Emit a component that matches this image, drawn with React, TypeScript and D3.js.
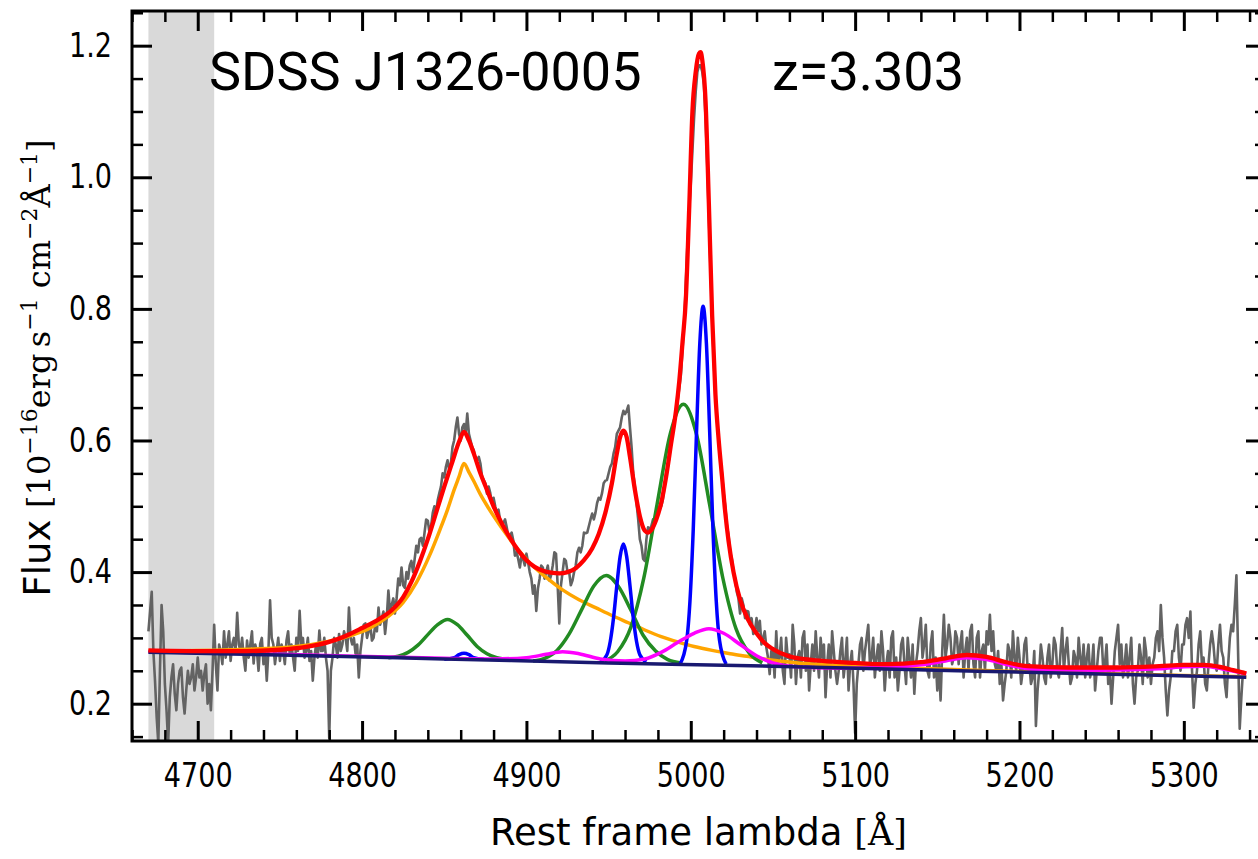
import React, { useRef, useEffect } from 'react';
import * as d3 from 'd3';

// observed spectrum, 1 A bins starting at 4670 A (one row = 10 A)
const specStart = 4670;
const specStep = 1;
const specFlux = [
  0.31, 0.34, 0.37, 0.28, 0.235, 0.18, 0.14, 0.25, 0.35, 0.31,
  0.23, 0.19, 0.14, 0.21, 0.24, 0.26, 0.215, 0.19, 0.23, 0.25,
  0.255, 0.21, 0.185, 0.22, 0.25, 0.23, 0.24, 0.26, 0.22, 0.24,
  0.27, 0.24, 0.25, 0.22, 0.245, 0.26, 0.20, 0.23, 0.19, 0.25,
  0.32, 0.26, 0.22, 0.29, 0.28, 0.26, 0.31, 0.27, 0.29, 0.31,
  0.265, 0.29, 0.30, 0.28, 0.338, 0.29, 0.28, 0.30, 0.27, 0.25,
  0.296, 0.27, 0.29, 0.31, 0.261, 0.29, 0.28, 0.25, 0.291, 0.30,
  0.26, 0.28, 0.235, 0.28, 0.357, 0.30, 0.29, 0.26, 0.28, 0.30,
  0.265, 0.29, 0.28, 0.26, 0.296, 0.31, 0.275, 0.29, 0.27, 0.25,
  0.30, 0.28, 0.341, 0.29, 0.30, 0.27, 0.28, 0.30, 0.265, 0.28,
  0.235, 0.27, 0.29, 0.27, 0.311, 0.28, 0.28, 0.30, 0.27, 0.25,
  0.148, 0.25, 0.27, 0.30, 0.29, 0.27, 0.306, 0.28, 0.29, 0.31,
  0.30, 0.28, 0.346, 0.30, 0.29, 0.30, 0.276, 0.29, 0.24, 0.28,
  0.30, 0.32, 0.322, 0.30, 0.31, 0.32, 0.296, 0.30, 0.32, 0.31,
  0.346, 0.32, 0.33, 0.34, 0.306, 0.33, 0.372, 0.34, 0.35, 0.36,
  0.337, 0.36, 0.39, 0.38, 0.407, 0.38, 0.376, 0.40, 0.39, 0.41,
  0.417, 0.40, 0.42, 0.44, 0.43, 0.45, 0.452, 0.44, 0.46, 0.48,
  0.478, 0.46, 0.47, 0.49, 0.50, 0.49, 0.509, 0.52, 0.53, 0.55,
  0.544, 0.56, 0.57, 0.555, 0.565, 0.59, 0.60, 0.62, 0.635, 0.61,
  0.60, 0.62, 0.625, 0.61, 0.641, 0.61, 0.60, 0.59, 0.585, 0.57,
  0.57, 0.575, 0.565, 0.545, 0.54, 0.535, 0.519, 0.53, 0.52, 0.505,
  0.513, 0.50, 0.49, 0.495, 0.478, 0.47, 0.475, 0.48, 0.468, 0.455,
  0.455, 0.46, 0.448, 0.425, 0.43, 0.42, 0.407, 0.425, 0.42, 0.41,
  0.428, 0.415, 0.40, 0.39, 0.367, 0.38, 0.341, 0.375, 0.39, 0.41,
  0.407, 0.39, 0.40, 0.41, 0.387, 0.395, 0.41, 0.43, 0.428, 0.38,
  0.322, 0.38, 0.40, 0.42, 0.417, 0.40, 0.40, 0.38, 0.387, 0.40,
  0.41, 0.43, 0.437, 0.43, 0.44, 0.46, 0.459, 0.46, 0.47, 0.48,
  0.489, 0.48, 0.49, 0.505, 0.513, 0.51, 0.52, 0.535, 0.539, 0.54,
  0.55, 0.56, 0.565, 0.58, 0.59, 0.61, 0.615, 0.62, 0.635, 0.645,
  0.64, 0.645, 0.653, 0.62, 0.589, 0.55, 0.529, 0.505, 0.48, 0.45,
  0.44, 0.42, 0.417, 0.45, 0.468, 0.465, 0.47, 0.48, 0.478, 0.48,
  0.49, 0.50, 0.50, 0.51, 0.53, 0.55, 0.56, 0.575, 0.60, 0.62,
  0.63, 0.64, 0.66, 0.68, 0.70, 0.74, 0.78, 0.84, 0.90, 0.95,
  0.99, 1.04, 1.09, 1.13, 1.16, 1.17, 1.17, 1.16, 1.14, 1.09,
  1.02, 0.94, 0.86, 0.79, 0.72, 0.67, 0.63, 0.60, 0.57, 0.55,
  0.52, 0.50, 0.47, 0.455, 0.43, 0.42, 0.40, 0.39, 0.37, 0.36,
  0.337, 0.36, 0.35, 0.33, 0.341, 0.34, 0.32, 0.33, 0.306, 0.31,
  0.33, 0.31, 0.326, 0.29, 0.30, 0.31, 0.285, 0.27, 0.245, 0.28,
  0.28, 0.24, 0.31, 0.26, 0.27, 0.30, 0.25, 0.23, 0.30, 0.27,
  0.275, 0.24, 0.32, 0.29, 0.23, 0.27, 0.28, 0.24, 0.30, 0.31,
  0.25, 0.29, 0.22, 0.26, 0.29, 0.25, 0.31, 0.27, 0.24, 0.30,
  0.27, 0.29, 0.21, 0.26, 0.29, 0.24, 0.31, 0.28, 0.25, 0.23,
  0.25, 0.28, 0.30, 0.24, 0.265, 0.30, 0.22, 0.26, 0.28, 0.23,
  0.155, 0.23, 0.26, 0.29, 0.30, 0.25, 0.28, 0.30, 0.32, 0.26,
  0.27, 0.30, 0.24, 0.27, 0.29, 0.25, 0.31, 0.28, 0.22, 0.26,
  0.28, 0.24, 0.30, 0.31, 0.24, 0.27, 0.22, 0.25, 0.29, 0.30,
  0.26, 0.23, 0.30, 0.27, 0.24, 0.29, 0.215, 0.26, 0.28, 0.31,
  0.33, 0.27, 0.29, 0.32, 0.25, 0.24, 0.29, 0.31, 0.24, 0.27,
  0.22, 0.26, 0.205, 0.28, 0.335, 0.27, 0.29, 0.32, 0.30, 0.26,
  0.27, 0.31, 0.30, 0.26, 0.29, 0.31, 0.24, 0.28, 0.30, 0.25,
  0.31, 0.32, 0.26, 0.24, 0.30, 0.31, 0.24, 0.28, 0.29, 0.25,
  0.31, 0.29, 0.335, 0.28, 0.31, 0.26, 0.25, 0.28, 0.23, 0.26,
  0.205, 0.23, 0.25, 0.29, 0.28, 0.24, 0.31, 0.27, 0.25, 0.30,
  0.27, 0.23, 0.25, 0.29, 0.30, 0.25, 0.26, 0.23, 0.24, 0.28,
  0.166, 0.22, 0.25, 0.29, 0.27, 0.24, 0.23, 0.27, 0.29, 0.24,
  0.26, 0.30, 0.29, 0.25, 0.24, 0.28, 0.315, 0.25, 0.28, 0.30,
  0.26, 0.23, 0.24, 0.28, 0.27, 0.24, 0.30, 0.27, 0.25, 0.29,
  0.24, 0.27, 0.29, 0.24, 0.255, 0.29, 0.22, 0.25, 0.28, 0.30,
  0.30, 0.25, 0.26, 0.29, 0.23, 0.25, 0.20, 0.24, 0.28, 0.30,
  0.32, 0.26, 0.29, 0.24, 0.26, 0.29, 0.24, 0.27, 0.30, 0.23,
  0.20, 0.24, 0.25, 0.29, 0.27, 0.23, 0.30, 0.28, 0.24, 0.27,
  0.23, 0.26, 0.27, 0.30, 0.31, 0.28, 0.35, 0.30, 0.27, 0.22,
  0.182, 0.22, 0.24, 0.28, 0.28, 0.31, 0.32, 0.27, 0.25, 0.29,
  0.29, 0.32, 0.33, 0.30, 0.34, 0.25, 0.194, 0.23, 0.25, 0.29,
  0.31, 0.26, 0.27, 0.23, 0.22, 0.26, 0.29, 0.31, 0.29, 0.26,
  0.25, 0.29, 0.32, 0.28, 0.27, 0.23, 0.21, 0.26, 0.30, 0.32,
  0.31, 0.35, 0.395, 0.28, 0.162, 0.21, 0.25,
];

// fit components, [wavelength, flux]
const continuum = [
  [4670, 0.278], [4750, 0.274], [4850, 0.268], [4950, 0.262],
  [5050, 0.257], [5150, 0.251], [5250, 0.245], [5338, 0.240],
];

const hbBroad = [
  [4670, 0.280], [4720, 0.282], [4760, 0.287], [4780, 0.295], [4795, 0.305],
  [4805, 0.315], [4815, 0.331], [4825, 0.354], [4833, 0.384], [4841, 0.425],
  [4847, 0.462], [4852, 0.495], [4856, 0.525], [4859, 0.545], [4862, 0.565],
  [4865, 0.552], [4868, 0.538], [4872, 0.518], [4877, 0.497], [4882, 0.478],
  [4887, 0.460], [4892, 0.443], [4897, 0.428], [4902, 0.414], [4912, 0.392],
  [4922, 0.373], [4932, 0.358], [4942, 0.346], [4952, 0.334], [4962, 0.323],
  [4972, 0.312], [4982, 0.302], [4992, 0.294], [5002, 0.287], [5013, 0.281],
  [5024, 0.276], [5034, 0.272], [5044, 0.268], [5054, 0.265], [5070, 0.261],
  [5090, 0.258], [5120, 0.255], [5160, 0.252], [5200, 0.249], [5250, 0.246],
  [5300, 0.243], [5338, 0.241],
];

const feII = [
  [4670, 0.279], [4750, 0.275], [4850, 0.269], [4880, 0.268], [4900, 0.270],
  [4912, 0.275], [4922, 0.279], [4932, 0.276], [4945, 0.268], [4960, 0.265],
  [4972, 0.268], [4982, 0.278], [4992, 0.293], [5002, 0.307], [5011, 0.314],
  [5020, 0.307], [5030, 0.290], [5040, 0.273], [5050, 0.262], [5065, 0.256],
  [5090, 0.254], [5120, 0.255], [5140, 0.259], [5155, 0.265], [5168, 0.270],
  [5180, 0.267], [5195, 0.258], [5210, 0.252], [5250, 0.251], [5285, 0.253],
  [5300, 0.256], [5312, 0.257], [5325, 0.252], [5338, 0.245],
];

const hbWing = [
  [4816, 0.270], [4822, 0.272], [4828, 0.278], [4834, 0.289], [4840, 0.305],
  [4846, 0.320], [4852, 0.328], [4858, 0.320], [4864, 0.304], [4870, 0.287],
  [4876, 0.276], [4882, 0.270], [4890, 0.2675],
];

const o3WingA = [
  [4904, 0.265], [4911, 0.269], [4918.6, 0.281], [4926, 0.306], [4933.6, 0.343],
  [4941, 0.379], [4948.6, 0.395], [4956, 0.378], [4963.6, 0.342], [4971, 0.304],
  [4978.6, 0.280], [4986, 0.267], [4994, 0.262],
];

const o3WingB = [
  [4947.5, 0.265], [4955.5, 0.279], [4963.5, 0.316], [4971.5, 0.392],
  [4979.5, 0.503], [4987.5, 0.610], [4995.5, 0.655], [5003.5, 0.609],
  [5011.5, 0.502], [5019.5, 0.391], [5027.5, 0.314], [5035.5, 0.277],
  [5043.5, 0.262],
];

const hbNarrow = [
  [4850, 0.2675], [4856, 0.270], [4859, 0.2745], [4862, 0.2765],
  [4865, 0.2745], [4868, 0.270], [4874, 0.2675],
];

const o3CoreA = [
  [4945, 0.263], [4949, 0.2745], [4951, 0.2945], [4953, 0.3305], [4955, 0.3795],
  [4957, 0.4235], [4959, 0.4425], [4961, 0.4235], [4963, 0.3795], [4965, 0.3305],
  [4967, 0.2945], [4969, 0.2745], [4973, 0.2635],
];

const o3CoreB = [
  [4993.5, 0.2602], [4997.5, 0.296], [4999.5, 0.356], [5001.5, 0.465],
  [5003.5, 0.613], [5005.5, 0.748], [5007.5, 0.804], [5009.5, 0.748],
  [5011.5, 0.613], [5013.5, 0.465], [5015.5, 0.356], [5017.5, 0.296],
  [5021.5, 0.260],
];

const totalModel = [
  [4670, 0.281], [4700, 0.280], [4730, 0.280], [4750, 0.282], [4765, 0.286],
  [4780, 0.294], [4790, 0.303], [4800, 0.315], [4810, 0.328], [4818, 0.342],
  [4825, 0.362], [4830, 0.385], [4835, 0.415], [4840, 0.450], [4845, 0.490],
  [4850, 0.530], [4855, 0.568], [4859, 0.598], [4862, 0.613], [4865, 0.600],
  [4868, 0.580], [4872, 0.550], [4876, 0.525], [4880, 0.500], [4885, 0.474],
  [4890, 0.452], [4895, 0.433], [4900, 0.418], [4905, 0.408], [4910, 0.402],
  [4915, 0.399], [4920, 0.398], [4925, 0.400], [4930, 0.406], [4935, 0.418],
  [4940, 0.436], [4944, 0.458], [4948, 0.490], [4952, 0.535], [4955, 0.580],
  [4957, 0.605], [4959, 0.615], [4961, 0.605], [4963, 0.575], [4966, 0.525],
  [4969, 0.485], [4972, 0.463], [4974, 0.460], [4976, 0.464], [4979, 0.480],
  [4982, 0.505], [4985, 0.545], [4988, 0.595], [4991, 0.645], [4993, 0.690],
  [4995, 0.750], [4997, 0.815], [4999, 0.950], [5001, 1.100], [5003, 1.160],
  [5005, 1.188], [5006, 1.190], [5007, 1.178], [5009, 1.115], [5011, 0.960],
  [5013, 0.790], [5015, 0.670], [5017, 0.600], [5019, 0.545], [5021, 0.490],
  [5023, 0.447], [5026, 0.400], [5030, 0.358], [5035, 0.327], [5040, 0.307],
  [5045, 0.292], [5050, 0.283], [5060, 0.272], [5080, 0.265], [5100, 0.262],
  [5120, 0.260], [5140, 0.263], [5155, 0.269], [5168, 0.274], [5180, 0.271],
  [5192, 0.263], [5205, 0.257], [5230, 0.255], [5260, 0.255], [5285, 0.257],
  [5300, 0.259], [5312, 0.259], [5322, 0.256], [5330, 0.251], [5338, 0.246],
];

const xMajor = [4700, 4800, 4900, 5000, 5100, 5200, 5300];
const yMajor = [0.2, 0.4, 0.6, 0.8, 1.0, 1.2];
const maskedRange = [4670, 4710];

const App = () => {
  const svgRef = useRef(null);

  useEffect(() => {
    const svg = d3.select(svgRef.current);
    svg.selectAll('*').remove();

    const left = 132, right = 1266, top = 11, bottom = 741;
    const x = d3.scaleLinear().domain([4660, 5350]).range([left, right]);
    const y = d3.scaleLinear().domain([0.1433, 1.2527]).range([bottom, top]);

    svg.append('clipPath').attr('id', 'plot-clip')
      .append('rect')
      .attr('x', left).attr('y', top)
      .attr('width', right - left).attr('height', bottom - top);

    const plot = svg.append('g').attr('clip-path', 'url(#plot-clip)');

    plot.append('rect')
      .attr('x', x(maskedRange[0]))
      .attr('y', top)
      .attr('width', x(maskedRange[1]) - x(maskedRange[0]))
      .attr('height', bottom - top)
      .attr('fill', '#d9d9d9');

    const spec = specFlux.map((v, i) => [specStart + i * specStep, v]);
    const raw = d3.line().x((d) => x(d[0])).y((d) => y(d[1]));
    const smooth = d3.line().x((d) => x(d[0])).y((d) => y(d[1])).curve(d3.curveMonotoneX);

    plot.append('path').datum(spec)
      .attr('fill', 'none').attr('stroke', '#636363')
      .attr('stroke-width', 2.6).attr('stroke-linejoin', 'round')
      .attr('d', raw);

    const comps = [
      [hbBroad, 'orange'],
      [hbWing, '#228b22'],
      [o3WingA, '#228b22'],
      [o3WingB, '#228b22'],
      [hbNarrow, 'blue'],
      [o3CoreA, 'blue'],
      [o3CoreB, 'blue'],
      [feII, 'magenta'],
      [continuum, '#191970'],
    ];
    comps.forEach(([data, color]) => {
      plot.append('path').datum(data)
        .attr('fill', 'none').attr('stroke', color)
        .attr('stroke-width', 3.5)
        .attr('d', smooth);
    });

    plot.append('path').datum(totalModel)
      .attr('fill', 'none').attr('stroke', 'red')
      .attr('stroke-width', 4.3)
      .attr('d', smooth);

    // axes, ticks pointing inward on all four sides
    const xMinor = d3.range(4660, 5351, 20).filter((v) => v % 100 !== 0);
    const yMinor = d3.range(3, 26).filter((i) => i % 4 !== 0).map((i) => i * 0.05);
    const font = 'DejaVu Sans, sans-serif';
    const squeeze = 0.82;

    const styleAxis = (g, w) => {
      g.select('.domain').remove();
      g.selectAll('line').attr('stroke', 'black').attr('stroke-width', w);
    };

    svg.append('g').attr('transform', `translate(0,${bottom})`)
      .call(d3.axisBottom(x).tickValues(xMajor).tickSize(-20).tickPadding(23).tickFormat(d3.format('d')))
      .call((g) => styleAxis(g, 3))
      .call((g) => g.selectAll('text')
        .attr('font-family', font).attr('font-size', 33).attr('fill', 'black')
        .attr('transform', `scale(${squeeze},1)`));
    svg.append('g').attr('transform', `translate(0,${bottom})`)
      .call(d3.axisBottom(x).tickValues(xMinor).tickSize(-11).tickFormat(() => ''))
      .call((g) => styleAxis(g, 2.5));
    svg.append('g').attr('transform', `translate(0,${top})`)
      .call(d3.axisTop(x).tickValues(xMajor).tickSize(-20).tickFormat(() => ''))
      .call((g) => styleAxis(g, 3));
    svg.append('g').attr('transform', `translate(0,${top})`)
      .call(d3.axisTop(x).tickValues(xMinor).tickSize(-11).tickFormat(() => ''))
      .call((g) => styleAxis(g, 2.5));

    svg.append('g').attr('transform', `translate(${left},0)`)
      .call(d3.axisLeft(y).tickValues(yMajor).tickSize(-20).tickFormat(d3.format('.1f')))
      .call((g) => styleAxis(g, 3))
      .call((g) => g.selectAll('text')
        .attr('x', 0)
        .attr('font-family', font).attr('font-size', 33).attr('fill', 'black')
        .attr('transform', `translate(-20,0) scale(${squeeze},1)`));
    svg.append('g').attr('transform', `translate(${left},0)`)
      .call(d3.axisLeft(y).tickValues(yMinor).tickSize(-11).tickFormat(() => ''))
      .call((g) => styleAxis(g, 2.5));
    svg.append('g').attr('transform', `translate(${right},0)`)
      .call(d3.axisRight(y).tickValues(yMajor).tickSize(-20).tickFormat(() => ''))
      .call((g) => styleAxis(g, 3));
    svg.append('g').attr('transform', `translate(${right},0)`)
      .call(d3.axisRight(y).tickValues(yMinor).tickSize(-11).tickFormat(() => ''))
      .call((g) => styleAxis(g, 2.5));

    svg.append('rect')
      .attr('x', left).attr('y', top)
      .attr('width', right - left).attr('height', bottom - top)
      .attr('fill', 'none').attr('stroke', 'black').attr('stroke-width', 3);

    // labels
    const serif = 'DejaVu Serif, serif';
    const xl = svg.append('text')
      .attr('x', 490).attr('y', 845)
      .attr('font-family', font).attr('font-size', 37).attr('fill', 'black');
    xl.append('tspan').text('Rest frame lambda ');
    xl.append('tspan').attr('font-family', serif).attr('font-size', 35).text('[Å]');

    const yl = svg.append('text')
      .attr('transform', 'translate(50,368) rotate(-90)')
      .attr('text-anchor', 'middle')
      .attr('font-family', serif).attr('font-size', 32).attr('fill', 'black');
    yl.append('tspan').attr('font-family', font).attr('font-size', 37).text('Flux ');
    const parts = [
      ['[10', 0], ['−16', 1], ['erg\u2009s', 0], ['−1', 1], [' cm', 0], ['−2', 1], ['Å', 0], ['−1', 1], [']', 0],
    ];
    let prevSup = 0;
    parts.forEach(([t, sup]) => {
      const shift = sup === prevSup ? 0 : (sup ? -13 : 13);
      yl.append('tspan')
        .attr('dy', shift)
        .attr('font-size', sup ? 22 : 32)
        .text(t);
      prevSup = sup;
    });

    const titleFont = 'Roboto, sans-serif';
    svg.append('text')
      .attr('x', 209).attr('y', 90)
      .attr('font-family', titleFont).attr('font-size', 54).attr('fill', 'black')
      .text('SDSS J1326-0005');
    svg.append('text')
      .attr('x', 772).attr('y', 90)
      .attr('font-family', titleFont).attr('font-size', 54).attr('fill', 'black')
      .text('z=3.303');
  }, []);

  return (
    <svg
      ref={svgRef}
      width={1258}
      height={859}
      style={{ position: 'absolute', left: 0, top: 0, background: 'white' }}
    />
  );
};

export default App;
